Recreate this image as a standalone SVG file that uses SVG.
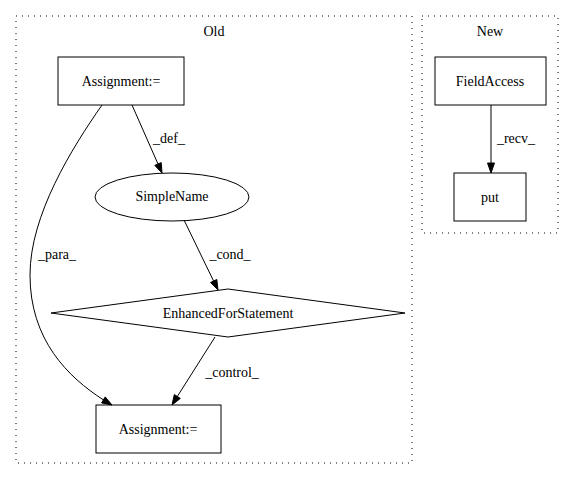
<svg xmlns="http://www.w3.org/2000/svg" width="573" height="480" viewBox="0 0 573 480">
<style>
text{font-family:"Liberation Serif","Times New Roman",serif;font-size:14px;fill:#000;text-anchor:middle}
.cl{fill:none;stroke:#000;stroke-dasharray:1,5}
.n{fill:none;stroke:#000;stroke-width:1}
.e{fill:none;stroke:#000;stroke-width:1}
.a{fill:#000;stroke:#000;stroke-width:1}
</style>
<rect width="573" height="480" fill="#fff"/>
<g id="cluster_old">
<rect class="cl" x="16" y="16" width="396" height="447"/>
<text x="214" y="36">Old</text>
</g>
<g id="cluster_new">
<rect class="cl" x="422" y="16" width="136" height="217"/>
<text x="490" y="36">New</text>
</g>
<g id="connectors">
<path class="e" d="M132,105 L158,164"/>
<polygon class="a" points="161.2,162.6 154.8,165.4 162,173"/>
<text x="169" y="143">_def_</text>
<path class="e" d="M184,220 L213.6,281"/>
<polygon class="a" points="216.8,279.5 210.5,282.5 218,290"/>
<text x="230" y="259">_cond_</text>
<path class="e" d="M215,337 L177.3,396.5"/>
<polygon class="a" points="180.3,398.4 174.3,394.6 172,405"/>
<text x="232" y="377">_control_</text>
<path class="e" d="M102,105 C72,148 30,215 30,275 C30,340 68,377 103.4,399.9"/>
<polygon class="a" points="105.2,396.9 101.6,402.9 112,405"/>
<text x="57" y="259">_para_</text>
<path class="e" d="M491,105 L491,163"/>
<polygon class="a" points="487.5,163 494.5,163 491,173"/>
<text x="516" y="143">_recv_</text>
</g>
<g id="assign1">
<rect class="n" x="58" y="57" width="126" height="48"/>
<text x="121" y="86">Assignment:=</text>
</g>
<g id="simplename">
<ellipse class="n" cx="172" cy="197" rx="77" ry="24"/>
<text x="172" y="201">SimpleName</text>
</g>
<g id="enhancedfor">
<polygon class="n" points="228,289 405,313 228,337 51,313"/>
<text x="228" y="318">EnhancedForStatement</text>
</g>
<g id="assign2">
<rect class="n" x="96" y="405" width="125" height="48"/>
<text x="158" y="434">Assignment:=</text>
</g>
<g id="fieldaccess">
<rect class="n" x="435" y="57" width="111" height="48"/>
<text x="490" y="86">FieldAccess</text>
</g>
<g id="put">
<rect class="n" x="454" y="173" width="72" height="48"/>
<text x="490" y="202">put</text>
</g>
</svg>
